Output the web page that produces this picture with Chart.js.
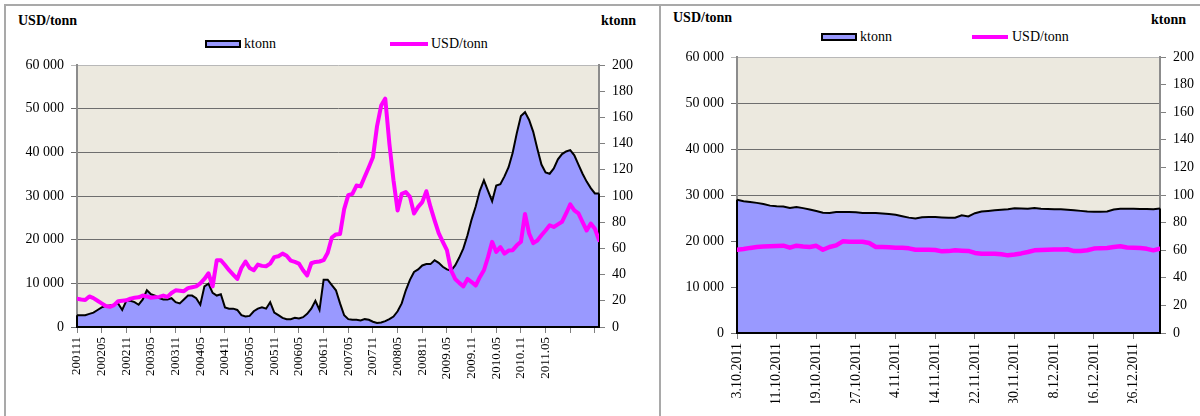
<!DOCTYPE html>
<html><head><meta charset="utf-8">
<script src="https://cdn.jsdelivr.net/npm/chart.js@4.4.0/dist/chart.umd.min.js"></script>
<style>
html,body{margin:0;padding:0;background:#fff;width:1200px;height:416px;overflow:hidden;font-family:"Liberation Serif","Times New Roman",serif;color:#000}
.box{position:absolute;border:2px solid #A9A9A9;box-sizing:border-box}
.t{position:absolute;font-size:14px;line-height:14px;white-space:nowrap}
.b{font-weight:bold}
.sw{position:absolute;box-sizing:border-box}
canvas{position:absolute}
</style></head><body>
<div class="box" style="left:4px;top:4px;width:657px;height:430px"></div>
<div class="box" style="left:659px;top:4px;width:545px;height:430px"></div>

<div class="t b" style="left:18px;top:14px">USD/tonn</div>
<div class="t b" style="left:601px;top:14px">ktonn</div>
<div class="sw" style="left:205px;top:40px;width:36px;height:8px;background:#9999FF;border:2px solid #000"></div>
<div class="t" style="left:244px;top:37px">ktonn</div>
<div class="sw" style="left:390px;top:42px;width:38px;height:4px;background:#FF00FF"></div>
<div class="t" style="left:431px;top:37px">USD/tonn</div>

<div class="t b" style="left:673px;top:11px">USD/tonn</div>
<div class="t b" style="left:1151px;top:13px">ktonn</div>
<div class="sw" style="left:821px;top:33px;width:36px;height:8px;background:#9999FF;border:2px solid #000"></div>
<div class="t" style="left:860px;top:30px">ktonn</div>
<div class="sw" style="left:972px;top:35px;width:36px;height:4px;background:#FF00FF"></div>
<div class="t" style="left:1012px;top:30px">USD/tonn</div>

<canvas id="cL" width="656" height="416" style="left:0;top:0"></canvas>
<canvas id="cR" width="538" height="416" style="left:662px;top:0"></canvas>

<script>
// ---- Left chart: monthly, Nov 2001 .. Jun 2012 ----
const leftTickLabels = ['200111','200205','200211','200305','200311','200405','200411','200505','200511','200605','200611','200705','200711','200805','200811','2009.05','2009.11','2010.05','2010.11','2011.05','',''];
const leftKtonn = [9,9,9,10,11,13,15,16,16.5,17,18,13,20,20,19,17,21,28,25,24,22,21,21,22,19,18,21,24,24,22,17,31,33,26,24,25,15,14,14,13,9,8,8.5,12,14,15,14,19,11,9,7,6,6,7,6.5,7.5,10,14,20,13,36,36,32,28,18,9,6,5.5,5.5,5,6,5.5,4,3,3.5,4.5,6,8,12,18,28,36,42,44,47,48,48,51,49,46,44,43,47,53,60,70,82,92,104,112,104,96,108,109,115,122,133,148,161,164,158,149,136,124,118,117,121,128,132,134,135,131,124,117,111,106,102,102];
const leftUsd = [6500,6300,6200,7000,6600,6000,5400,4800,4600,5000,5900,6000,6100,6500,6700,6800,7200,7000,6700,6800,6900,7200,6900,7800,8400,8300,8200,8900,9100,9300,10000,11000,12300,9300,15300,15300,14200,13000,12000,11000,13500,15000,13500,13000,14300,14000,13900,14500,16000,16200,16800,16300,15200,14900,14500,13000,11800,14600,14900,15000,15300,17000,20500,21200,21300,27000,30200,30500,32400,32200,34400,36600,38900,46000,50700,52300,42000,33600,26700,30500,30900,29800,26000,27500,28600,31100,27500,24400,21500,19500,17600,13000,11000,10100,9300,11000,10300,9500,11400,13000,16000,19500,17200,18300,16800,17500,17600,18700,19500,25900,21400,19200,19800,21000,22100,23300,22900,23500,24100,26000,28100,26700,26000,24000,22100,23700,22500,19900];

// ---- Right chart: business days, 3.10.2011 .. 30.12.2011 ----
const rightTickLabels = ['3.10.2011','11.10.2011','19.10.2011','27.10.2011','4.11.2011','14.11.2011','22.11.2011','30.11.2011','8.12.2011','16.12.2011','26.12.2011'];
const rightKtonn = [96.6,95.5,95,94.3,93.5,92.3,91.8,91.6,90.6,91.3,90.5,89.5,88.4,87.2,87,87.6,87.6,87.7,87.5,87,87,87,86.6,86.2,85.7,84.6,83.6,82.9,83.8,84,84,83.7,83.5,83.6,85.3,84.5,86.8,88,88.4,88.9,89.3,89.7,90.4,90.3,90.1,90.5,90,89.8,89.7,89.6,89.3,89,88.5,88,87.9,87.9,88,89.5,90,90,90,89.9,89.8,89.7,90.2];
const rightUsd = [18100,18260,18500,18700,18800,18850,18900,18980,18550,18980,18800,18700,18950,18100,18700,19060,19930,19850,19850,19850,19560,18700,18700,18650,18550,18550,18400,18100,18100,18100,18050,17750,17800,17970,17900,17850,17400,17250,17250,17250,17100,16880,17050,17300,17600,17970,18050,18100,18150,18150,18200,17800,17850,18000,18350,18450,18500,18700,18840,18600,18550,18500,18300,17970,18330];

const usdTicks = {min:0, max:60000, step:10000};
const ktonnTicks = {min:0, max:200, step:20};
const TICK_EVERY = 6;

const fmt = v => String(v).replace(/\B(?=(\d{3})+(?!\d))/g, ' ');
const FAM = "'Liberation Serif','Times New Roman',serif";

const plotBg = {
  id: 'plotBg',
  beforeDraw(c) {
    const a = c.chartArea, ctx = c.ctx;
    ctx.save();
    ctx.fillStyle = '#ECE9DF';
    ctx.fillRect(a.left, a.top, a.right - a.left, a.bottom - a.top);
    ctx.restore();
  }
};
const areaEdges = {
  id: 'areaEdges',
  afterDatasetDraw(c, args) {
    if (args.index !== 1) return;
    const pts = args.meta.data;
    if (!pts.length) return;
    const base = c.scales.yR.getPixelForValue(0);
    const p0 = pts[0], pn = pts[pts.length - 1];
    const ctx = c.ctx;
    ctx.save();
    ctx.strokeStyle = '#000';
    ctx.lineWidth = 2;
    ctx.beginPath();
    ctx.moveTo(p0.x, p0.y); ctx.lineTo(p0.x, base); ctx.lineTo(pn.x, base); ctx.lineTo(pn.x, pn.y);
    ctx.stroke();
    ctx.restore();
  }
};

function makeChart(id, ktonn, usd, tickLabels, cfg) {
  const n = ktonn.length;
  const font = {family: FAM, size: 14};
  return new Chart(document.getElementById(id), {
    type: 'line',
    data: {datasets: [
      {label: 'USD/tonn', data: usd.map((v, i) => ({x: i, y: v})), yAxisID: 'yL',
       borderColor: '#FF00FF', borderWidth: cfg.lw, pointRadius: 0, fill: false, tension: 0, order: 1,
       borderJoinStyle: 'round', borderCapStyle: 'round'},
      {label: 'ktonn', data: ktonn.map((v, i) => ({x: i, y: v})), yAxisID: 'yR',
       borderColor: '#000', backgroundColor: '#9999FF', borderWidth: 2, pointRadius: 0,
       fill: 'origin', tension: 0, order: 2}
    ]},
    options: {
      responsive: false, animation: false, devicePixelRatio: 1,
      layout: {padding: cfg.pad},
      plugins: {legend: {display: false}, tooltip: {enabled: false}},
      scales: {
        x: {
          type: 'linear', min: 0, max: n - 1,
          afterBuildTicks: s => { s.ticks = tickLabels.map((_, k) => ({value: k * TICK_EVERY})); },
          afterFit: s => { s.height = cfg.xh; },
          ticks: {autoSkip: false, minRotation: 90, maxRotation: 90, padding: 4, color: '#000',
                  font: {family: FAM, size: cfg.xfs},
                  callback: v => tickLabels[Math.round(v / TICK_EVERY)] ?? ''},
          grid: {drawOnChartArea: false, drawTicks: true, tickLength: 6, color: '#808080', lineWidth: 1},
          border: {color: '#8C8C8C', width: 2}
        },
        yL: {
          position: 'left', min: usdTicks.min, max: usdTicks.max,
          afterFit: s => { s.width = cfg.ylw; },
          ticks: {stepSize: usdTicks.step, padding: 7, color: '#000', font, callback: v => fmt(v)},
          grid: {color: ctx => (ctx.tick && ctx.tick.value === usdTicks.max) ? '#B8B8B8' : '#6E6E6E',
                 lineWidth: 1, tickLength: 6},
          border: {color: '#8C8C8C', width: 2}
        },
        yR: {
          position: 'right', min: ktonnTicks.min, max: ktonnTicks.max,
          afterFit: s => { s.width = cfg.yrw; },
          ticks: {stepSize: ktonnTicks.step, padding: 7, color: '#000', font},
          grid: {drawOnChartArea: false, tickLength: 6, color: '#808080'},
          border: {color: '#8C8C8C', width: 2}
        }
      }
    },
    plugins: [plotBg, areaEdges]
  });
}

makeChart('cL', leftKtonn, leftUsd, leftTickLabels,
  {pad: {top: 65, bottom: 29, left: 0, right: 7}, xh: 60, ylw: 77, yrw: 50, xfs: 13, lw: 4});
makeChart('cR', rightKtonn, rightUsd, rightTickLabels,
  {pad: {top: 57, bottom: 13, left: 0, right: 0}, xh: 70, ylw: 75, yrw: 40, xfs: 14, lw: 4.5});
</script>
</body></html>
